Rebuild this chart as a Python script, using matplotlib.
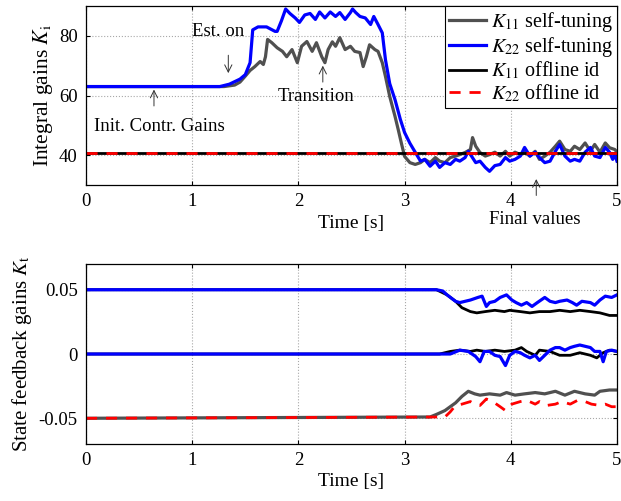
import matplotlib
matplotlib.use("Agg")
import matplotlib.pyplot as plt

plt.rcParams['font.family'] = ['Liberation Serif', 'DejaVu Serif']
plt.rcParams['mathtext.fontset'] = 'stix'
plt.rcParams['font.size'] = 13

# --- top panel: integral gains K_i ---
t_k11_st = [0, 1.30, 1.40, 1.45, 1.50, 1.545, 1.59, 1.64, 1.67, 1.69, 1.71, 1.75, 1.80, 1.85,
            1.89, 1.94, 1.99, 2.03, 2.08, 2.13, 2.17, 2.22, 2.25, 2.28, 2.32, 2.35, 2.39, 2.44,
            2.49, 2.53, 2.58, 2.61, 2.64, 2.67, 2.72, 2.75, 2.79, 2.82, 2.86, 2.91, 2.94, 2.97,
            3.00, 3.05, 3.10, 3.15, 3.19, 3.24, 3.29, 3.33, 3.38, 3.43, 3.48, 3.52, 3.57, 3.62,
            3.64, 3.67, 3.71, 3.76, 3.80, 3.85, 3.90, 3.95, 3.99, 4.04, 4.09, 4.13, 4.18, 4.23,
            4.27, 4.32, 4.37, 4.42, 4.46, 4.51, 4.56, 4.60, 4.65, 4.70, 4.75, 4.79, 4.84, 4.89,
            4.93, 4.98, 5.00]
k11_st = [63, 63, 63.5, 64.5, 66.5, 68.4, 69.7, 71.4, 70.4, 73, 78.8, 77.7, 76, 74.8,
          73, 75.4, 71, 76.5, 78.1, 74.8, 77.7, 73, 71, 75.4, 78, 76.5, 79.4, 75.4,
          76.5, 74.8, 74.4, 69.7, 73, 77, 75.4, 74.8, 71, 66.4, 59.7, 53, 48.6, 44,
          39.6, 37.5, 36.9, 37.5, 38.6, 37.5, 39.2, 38, 37.5, 39.2, 39.7, 40.2, 40.9, 41.9,
          45.9, 43, 40.9, 39.7, 40.2, 41, 39.7, 41.3, 39.7, 41, 40.2, 41, 39.7, 41.3,
          38.6, 39.7, 41, 43, 44.7, 41.9, 41.3, 43, 41.9, 44.1, 41.3, 43.6, 41, 44.1,
          42.5, 41.9, 41]

t_k22_st = [0, 1.26, 1.35, 1.45, 1.50, 1.545, 1.57, 1.62, 1.70, 1.78, 1.80, 1.84, 1.88, 1.92,
            1.97, 2.01, 2.06, 2.11, 2.16, 2.20, 2.25, 2.30, 2.35, 2.39, 2.44, 2.49, 2.51, 2.54,
            2.58, 2.63, 2.68, 2.71, 2.75, 2.79, 2.82, 2.86, 2.91, 2.96, 3.00, 3.05, 3.10, 3.15,
            3.19, 3.24, 3.29, 3.33, 3.38, 3.43, 3.48, 3.52, 3.57, 3.60, 3.63, 3.67, 3.71, 3.76,
            3.80, 3.85, 3.90, 3.95, 3.99, 4.04, 4.09, 4.13, 4.18, 4.23, 4.27, 4.32, 4.37, 4.42,
            4.46, 4.51, 4.56, 4.60, 4.65, 4.70, 4.75, 4.79, 4.84, 4.89, 4.93, 4.96, 4.98, 5.00]
k22_st = [63, 63, 63.8, 65.5, 67, 71, 82, 83, 83, 81.5, 81.5, 85, 89, 87.5,
          86, 84.5, 87, 87.5, 85.5, 88, 86, 88, 86.5, 87.8, 85.5, 87.8, 89, 87.8,
          86.5, 86, 83.8, 86.5, 83.8, 81, 72, 64, 58.6, 52, 47.6, 44, 41, 38,
          38.6, 36.3, 38, 35.9, 37.5, 36.9, 38.6, 38, 39.2, 41.3, 39.7, 37.5, 38, 35.9,
          34.6, 36.5, 36.9, 39.2, 38, 38.6, 39.7, 42.6, 39.7, 41, 39.2, 37.5, 38, 41.3,
          43.6, 39.7, 38, 38.6, 38, 41, 42.6, 39.7, 39.2, 42.6, 41, 38.6, 40.2, 38]

t_off = [0, 5]
k11_off = [40.8, 40.8]
k22_off = [40.8, 40.8]

# --- bottom panel: state feedback gains K_t ---
t_kt_blue_hi = [0, 3.30, 3.36, 3.40, 3.48, 3.52, 3.57, 3.62, 3.69, 3.73, 3.77, 3.80, 3.85, 3.90,
                3.96, 4.01, 4.05, 4.10, 4.15, 4.20, 4.25, 4.32, 4.37, 4.42, 4.46, 4.53, 4.58,
                4.62, 4.67, 4.75, 4.79, 4.84, 4.89, 4.95, 5.00]
kt_blue_hi = [0.05, 0.05, 0.049, 0.046, 0.041, 0.040, 0.041, 0.042, 0.044, 0.045, 0.037, 0.040,
              0.041, 0.044, 0.046, 0.042, 0.040, 0.038, 0.040, 0.037, 0.040, 0.044, 0.041, 0.040,
              0.041, 0.042, 0.040, 0.038, 0.041, 0.040, 0.038, 0.042, 0.045, 0.044, 0.046]

t_kt_black_hi = [0, 3.30, 3.40, 3.48, 3.54, 3.62, 3.68, 3.76, 3.85, 3.94, 3.99, 4.09, 4.18,
                 4.27, 4.37, 4.46, 4.56, 4.65, 4.75, 4.84, 4.93, 5.00]
kt_black_hi = [0.05, 0.05, 0.046, 0.041, 0.036, 0.033, 0.032, 0.033, 0.034, 0.033, 0.034, 0.033,
               0.032, 0.033, 0.033, 0.034, 0.033, 0.034, 0.033, 0.032, 0.030, 0.030]

t_kt_blue_mid = [0, 3.35, 3.43, 3.52, 3.60, 3.67, 3.71, 3.75, 3.80, 3.85, 3.90, 3.95, 3.99, 4.04,
                 4.09, 4.13, 4.18, 4.23, 4.27, 4.32, 4.37, 4.42, 4.46, 4.51, 4.56, 4.60, 4.65,
                 4.70, 4.75, 4.79, 4.84, 4.87, 4.90, 4.95, 5.00]
kt_blue_mid = [0, 0, 0.0, 0.003, 0.002, -0.002, -0.006, 0.002, 0.002, -0.001, -0.002, -0.009,
               -0.001, 0.002, 0.001, -0.001, -0.003, -0.001, -0.005, -0.001, 0.003, 0.005, 0.005,
               0.003, 0.005, 0.006, 0.007, 0.006, 0.005, 0.002, 0.002, -0.006, 0.002, 0.003, 0.002]

t_kt_black_mid = [0, 3.33, 3.43, 3.52, 3.62, 3.68, 3.76, 3.85, 3.94, 4.04, 4.10, 4.15, 4.23,
                  4.27, 4.37, 4.46, 4.56, 4.65, 4.75, 4.81, 4.87, 4.93, 5.00]
kt_black_mid = [0, 0, 0.002, 0.003, 0.002, 0.003, 0.002, 0.003, 0.002, 0.003, 0.005, 0.002,
                -0.001, 0.003, 0.002, -0.001, -0.001, 0.001, -0.001, -0.003, 0.001, 0.003, 0.002]

t_kt_gray_lo = [0, 3.24, 3.30, 3.38, 3.48, 3.54, 3.60, 3.66, 3.71, 3.80, 3.90, 3.96, 4.04, 4.13,
                4.23, 4.32, 4.42, 4.51, 4.60, 4.70, 4.79, 4.84, 4.93, 5.00]
kt_gray_lo = [-0.05, -0.049, -0.047, -0.044, -0.038, -0.033, -0.029, -0.031, -0.032, -0.031,
              -0.032, -0.030, -0.032, -0.031, -0.030, -0.031, -0.029, -0.032, -0.029, -0.031,
              -0.032, -0.029, -0.028, -0.028]

t_kt_red_lo = [0, 3.38, 3.43, 3.48, 3.54, 3.62, 3.66, 3.71, 3.77, 3.83, 3.90, 3.95, 4.01, 4.09,
               4.15, 4.23, 4.27, 4.34, 4.42, 4.48, 4.56, 4.63, 4.70, 4.76, 4.84, 4.89, 4.95, 5.00]
kt_red_lo = [-0.05, -0.049, -0.045, -0.040, -0.039, -0.037, -0.039, -0.040, -0.035, -0.037,
             -0.041, -0.044, -0.039, -0.037, -0.036, -0.039, -0.037, -0.040, -0.039, -0.037,
             -0.039, -0.036, -0.037, -0.039, -0.040, -0.039, -0.041, -0.041]

GRAY = '#505050'
BLUE = '#0000ff'
RED = '#ff0000'

fig = plt.figure(figsize=(6.21, 5.01), dpi=100)
ax1 = fig.add_axes([0.1385, 0.6307, 0.855, 0.3573])
ax2 = fig.add_axes([0.1385, 0.1138, 0.855, 0.3592])

red_dash = dict(color=RED, lw=2.0, ls=(0, (4, 3.2)))

ax1.plot(t_k11_st, k11_st, color=GRAY, lw=2.3, label=r'$K_{11}$ self-tuning')
ax1.plot(t_k22_st, k22_st, color=BLUE, lw=2.3, label=r'$K_{22}$ self-tuning')
ax1.plot(t_off, k11_off, color='black', lw=2.0, label=r'$K_{11}$ offline id')
ax1.plot(t_off, k22_off, label=r'$K_{22}$ offline id', **red_dash)

ax2.plot(t_kt_black_hi, kt_black_hi, color='black', lw=2.0)
ax2.plot(t_kt_black_mid, kt_black_mid, color='black', lw=2.0)
ax2.plot(t_kt_gray_lo, kt_gray_lo, color=GRAY, lw=2.3)
ax2.plot(t_kt_blue_hi, kt_blue_hi, color=BLUE, lw=2.3)
ax2.plot(t_kt_blue_mid, kt_blue_mid, color=BLUE, lw=2.3)
ax2.plot(t_kt_red_lo, kt_red_lo, **red_dash)

for ax in (ax1, ax2):
    ax.set_xlim(0, 5)
    ax.set_xticks([0, 1, 2, 3, 4, 5])
    ax.grid(True, ls=':', color='#a8a8a8', lw=0.8)
    ax.tick_params(direction='in', top=True, right=True, length=3, pad=6, labelsize=13.5)
    for s in ax.spines.values():
        s.set_linewidth(0.9)
    ax.set_xlabel('Time [s]', labelpad=3, fontsize=14)

ax1.set_ylim(30, 90)
ax1.set_yticks([40, 60, 80])
ax1.set_ylabel(r'Integral gains $K_{\mathrm{i}}$', labelpad=3, fontsize=15.5)

ax2.set_ylim(-0.07, 0.07)
ax2.set_yticks([-0.05, 0, 0.05])
ax2.set_yticklabels(['-0.05', '0', '0.05'])
ax2.set_ylabel(r'State feedback gains $K_{\mathrm{t}}$', labelpad=3, fontsize=15)

leg = ax1.legend(loc='upper right', borderaxespad=0, fancybox=False, framealpha=1,
                 edgecolor='black', handlelength=1.8, handletextpad=0.25,
                 labelspacing=0.05, borderpad=0.2, fontsize=14.5)
leg.get_frame().set_linewidth(0.8)

arrow = dict(arrowstyle='->', lw=0.7, color='#333333', shrinkA=0, shrinkB=0)
ax1.text(1.24, 81.5, 'Est. on', ha='center', va='center', fontsize=13.5)
ax1.annotate('', xy=(1.34, 67.5), xytext=(1.34, 73.5), arrowprops=arrow)
ax1.text(0.69, 49.6, 'Init. Contr. Gains', ha='center', va='center', fontsize=13.5)
ax1.annotate('', xy=(0.64, 62), xytext=(0.64, 56.5), arrowprops=arrow)
ax1.text(2.17, 59.7, 'Transition', ha='center', va='center', fontsize=13.5)
ax1.annotate('', xy=(2.23, 70), xytext=(2.23, 64.5), arrowprops=arrow)
ax1.text(4.23, 18.6, 'Final values', ha='center', va='center', clip_on=False, fontsize=13.5)
ax1.annotate('', xy=(4.24, 32), xytext=(4.24, 26.5), arrowprops=arrow,
             annotation_clip=False)

fig.savefig('out.png', dpi=100)
